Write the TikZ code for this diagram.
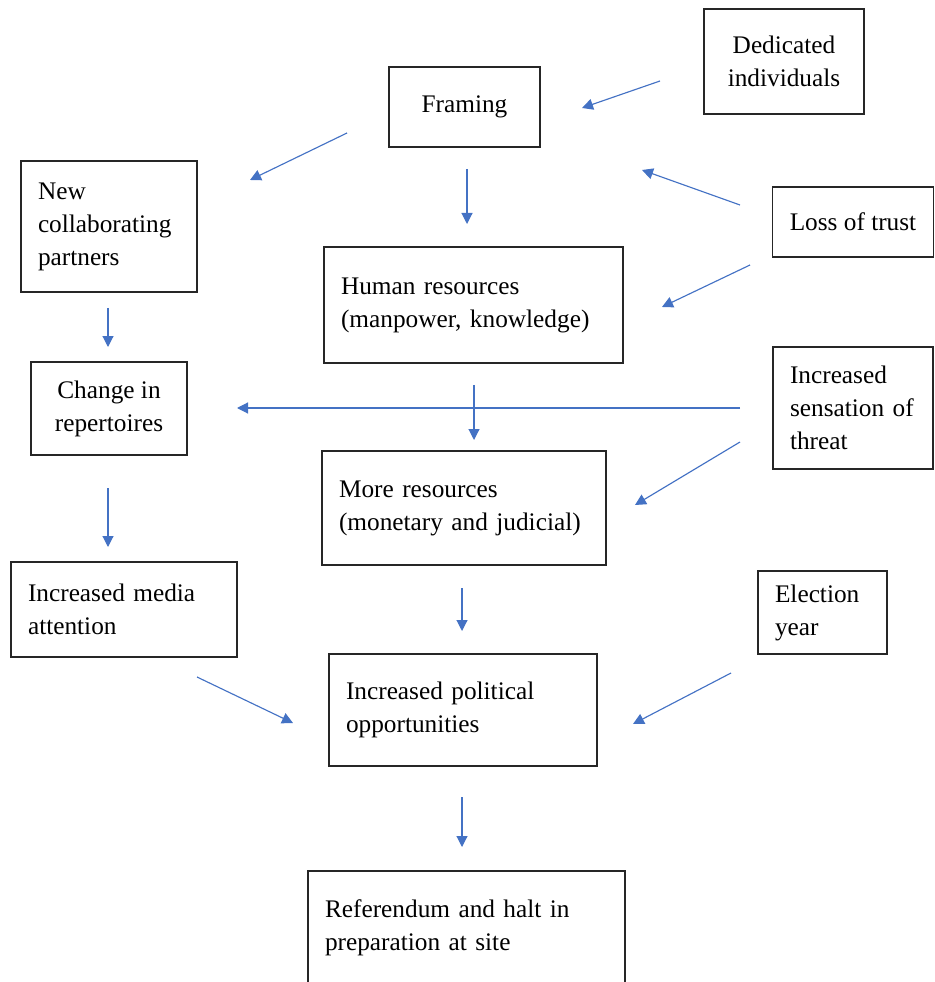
\documentclass[tikz,border=0pt]{standalone}
\usepackage{fontspec}
\setmainfont{Liberation Serif}
\usetikzlibrary{arrows.meta, positioning}

\definecolor{flowblue}{HTML}{4472C4}

\begin{document}
\begin{tikzpicture}[x=0.02cm, y=-0.02cm,
    box/.style={rectangle, draw=black!85, line width=0.8pt, fill=white, inner xsep=0.34cm, inner ysep=0pt, align=left, font=\fontsize{14.4pt}{18.8pt}\selectfont},
    cbox/.style={box, align=center},
    flow/.style={-{Triangle[length=0.22cm, width=0.22cm]}, flowblue, line width=0.65pt},
]

\clip (0,0) rectangle (934,982);

% === TOP ROW ===
\node[cbox, minimum width=3.2cm, minimum height=2.1cm] (ded) at (784,61.5) {Dedicated\\individuals};
\node[cbox, minimum width=3.02cm, minimum height=1.6cm] (fram) at (464.5,107) {Framing};
\node[cbox, minimum width=3.2cm, minimum height=1.4cm] (loss) at (853,222) {Loss of trust};

% === LEFT COLUMN ===
\node[box, text width=2.84cm, minimum height=2.62cm] (newc) at (109,226.5) {New\\collaborating\\partners};
\node[cbox, minimum width=3.12cm, minimum height=1.86cm] (chg) at (109,408.5) {Change in\\repertoires};
\node[box, text width=3.84cm, minimum height=1.9cm] (media) at (124,609.5) {Increased media\\attention};

% === MIDDLE COLUMN ===
\node[box, text width=5.3cm, minimum height=2.32cm] (human) at (473.5,305) {Human resources\\(manpower, knowledge)};
\node[box, text width=5.0cm, minimum height=2.28cm] (more) at (464,508) {More resources\\(monetary and judicial)};
\node[box, text width=4.68cm, minimum height=2.24cm] (pol) at (463,710) {Increased political\\opportunities};
\node[box, text width=5.66cm, minimum height=2.28cm] (ref) at (466.5,928) {Referendum and halt in\\preparation at site};

% === RIGHT COLUMN ===
\node[box, text width=2.52cm, minimum height=2.44cm] (threat) at (853,408) {Increased\\sensation of\\threat};
\node[box, text width=1.9cm, minimum height=1.66cm] (elect) at (822.5,612.5) {Election\\year};

% === ARROW END POINTS (arrows float between the boxes) ===
\coordinate (ded-o) at (660,81);     \coordinate (fram-i) at (582,108);
\coordinate (fram-o1) at (347,133);  \coordinate (newc-i) at (250,180);
\coordinate (fram-o2) at (467,169);  \coordinate (human-i1) at (467,224);
\coordinate (loss-o1) at (740,205);  \coordinate (fram-i2) at (642,170);
\coordinate (loss-o2) at (750,265);  \coordinate (human-i2) at (662,307);
\coordinate (newc-o) at (108,308);   \coordinate (chg-i1) at (108,347);
\coordinate (human-o) at (474,385);  \coordinate (more-i1) at (474,440);
\coordinate (threat-o1) at (740,408); \coordinate (chg-i2) at (237,408);
\coordinate (threat-o2) at (740,442); \coordinate (more-i2) at (635,505);
\coordinate (chg-o) at (108,488);    \coordinate (media-i) at (108,547);
\coordinate (more-o) at (462,588);   \coordinate (pol-i1) at (462,631);
\coordinate (media-o) at (197,677);  \coordinate (pol-i2) at (293,723);
\coordinate (elect-o) at (731,673);  \coordinate (pol-i3) at (633,724);
\coordinate (pol-o) at (462,797);    \coordinate (ref-i) at (462,847);

% === ARROWS ===
\foreach \s/\t in {ded-o/fram-i, fram-o1/newc-i, fram-o2/human-i1, loss-o1/fram-i2,
                   loss-o2/human-i2, newc-o/chg-i1, human-o/more-i1, threat-o1/chg-i2,
                   threat-o2/more-i2, chg-o/media-i, more-o/pol-i1, media-o/pol-i2,
                   elect-o/pol-i3, pol-o/ref-i} {
    \draw[flow] (\s) -- (\t);
}

\end{tikzpicture}
\end{document}
